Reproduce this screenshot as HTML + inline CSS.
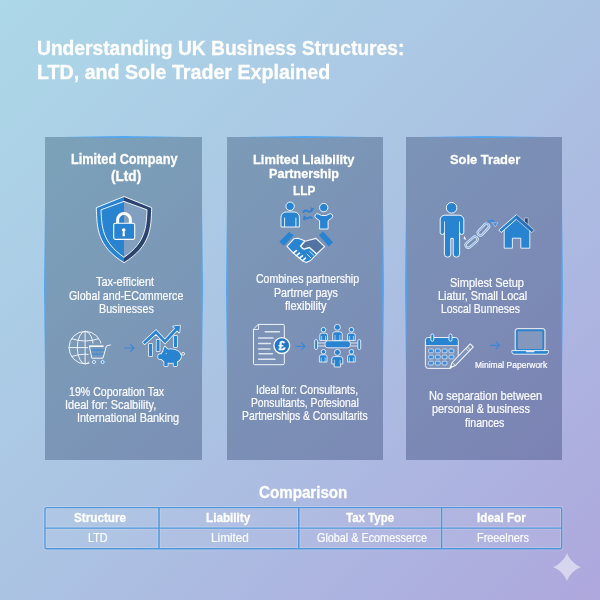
<!DOCTYPE html>
<html lang="en">
<head>
<meta charset="utf-8">
<title>Understanding UK Business Structures</title>
<style>
html,body{margin:0;padding:0;}
body{width:600px;height:600px;overflow:hidden;font-family:"Liberation Sans",Arial,sans-serif;}
#page{position:relative;width:600px;height:600px;overflow:hidden;
  background:linear-gradient(135deg,#acd8e8 0%,#abc3e3 50%,#aea7dd 100%);}
.card{position:absolute;top:137px;height:323px;width:157px;background-image:linear-gradient(135deg,#7ba9ba 0%,#7b92b6 50%,#7c7cb3 100%);background-size:600px 600px;background-repeat:no-repeat;}
.card i{position:absolute;display:block;}
.card .et{left:0;right:0;top:-1px;height:1.6px;background:linear-gradient(90deg,rgba(80,166,242,0) 10%,rgba(80,166,242,1) 50%,rgba(80,166,242,0) 90%);}
.card .el{left:-1px;top:0;bottom:0;width:1.6px;background:linear-gradient(180deg,rgba(80,166,242,0) 21%,rgba(80,166,242,1) 47%,rgba(80,166,242,0) 73%);}
.card .er{right:-1px;top:0;bottom:0;width:1.6px;background:linear-gradient(180deg,rgba(80,166,242,0) 21%,rgba(80,166,242,1) 47%,rgba(80,166,242,0) 73%);}
.t{-webkit-text-stroke:0.3px currentColor;position:absolute;white-space:nowrap;line-height:normal;transform-origin:0 0;}
svg{position:absolute;left:0;top:0;}
#txt{position:absolute;left:0;top:0;width:600px;height:600px;will-change:transform;}
</style>
</head>
<body>
<div id="page">
<div class="card" style="left:45px;background-position:-45px -137px"><i class="et"></i><i class="el"></i><i class="er"></i></div>
<div class="card" style="left:227px;width:156px;background-position:-227px -137px"><i class="et"></i><i class="el"></i><i class="er"></i></div>
<div class="card" style="left:406px;width:156px;background-position:-406px -137px"><i class="et"></i><i class="el"></i><i class="er"></i></div>
<svg width="600" height="600" viewBox="0 0 600 600">
<defs>
<linearGradient id="shO" x1="0" x2="1" y1="0" y2="0"><stop offset="0.5" stop-color="#2884d1"/><stop offset="0.5" stop-color="#2b4470"/></linearGradient>
<linearGradient id="shI" x1="0" x2="1" y1="0" y2="0"><stop offset="0.5" stop-color="#2884d1"/><stop offset="0.5" stop-color="#819fc0"/></linearGradient>
</defs>
<!-- table -->
<g id="tblg" fill="none">
<rect x="45" y="507.6" width="516.7" height="41.1" fill="#ffffff" fill-opacity="0.05" stroke="none"/>
<g stroke="#ffffff" stroke-opacity="0.22">
<rect x="45" y="507.6" width="516.7" height="41.1" rx="1.5" stroke-width="3"/>
<path d="M45,528 H561.7" stroke-width="2.9"/>
<path d="M159,507.6 V548.7 M298.8,507.6 V548.7 M441.6,507.6 V548.7" stroke-width="3.1"/>
</g>
<g stroke="#4e97da">
<rect x="45" y="507.6" width="516.7" height="41.1" rx="1.5" stroke-width="1.35"/>
<path d="M45,528 H561.7" stroke-width="1.25"/>
<path d="M159,507.6 V548.7 M298.8,507.6 V548.7 M441.6,507.6 V548.7" stroke-width="1.5"/>
</g>
</g>
<!-- shield -->
<g id="shield">
<path d="M124,196.5 L96.3,207.7 C97,228 97,246 124,262.7 C151,246 151,228 151.7,207.7 Z" fill="url(#shO)" stroke="#fff" stroke-width="0.9" stroke-linejoin="round"/>
<path d="M124,201.4 L101,209.8 C101.8,227 102,242 124,257.3 C146,242 146.2,227 147,209.8 Z" fill="url(#shI)" stroke="#fff" stroke-width="0.9" stroke-linejoin="round"/>
<path d="M117.65,224 V219.85 A6.35,6.35 0 0 1 130.35,219.85 V224" fill="none" stroke="#fff" stroke-width="3"/>
<rect x="113.7" y="223.3" width="21" height="16.1" rx="1.6" fill="#2884d1" stroke="#fff" stroke-width="1.1"/>
<circle cx="123.7" cy="230" r="1.8" fill="#fff"/>
<path d="M123,230 h1.4 l0.6,6.2 h-2.6 z" fill="#fff"/>
</g>
<!-- globe + cart -->
<g id="globe" fill="none" stroke="#f2f6fb" stroke-width="0.95">
<circle cx="85.3" cy="347.6" r="16.3"/>
<ellipse cx="85.3" cy="347.6" rx="8" ry="16.3"/>
<path d="M85.1,331.1 V364.1 M68.6,347.6 H101.6"/>
<path d="M71.3,338.6 Q85.1,343.4 98.9,338.6 M71.3,356.6 Q85.1,351.8 98.9,356.6"/>
</g>
<g id="cart">
<path d="M87.6,343.6 H111.5 L105.5,365 H89.5 Z" fill="#7b98b7"/>
<path d="M90.6,350.2 H104.8 M91.4,354 H103.8" stroke="#3a8ad8" stroke-width="1.2" fill="none"/>
<path d="M94,347 V357.5 M97,347 V357.5 M100,347 V357.5" stroke="#3a8ad8" stroke-width="0.6" fill="none" opacity="0.7"/>
<path d="M89.2,346.2 H103.6" stroke="#f4f7fb" stroke-width="1.7" fill="none"/>
<path d="M110.4,344.9 L106.4,346 L103,358.2 H91.8 L89.4,346.4" stroke="#f4f7fb" stroke-width="1" fill="none" stroke-linejoin="round" stroke-linecap="round"/>
<circle cx="94" cy="362" r="1.5" fill="#3a8ad8" stroke="#f4f7fb" stroke-width="0.9"/>
<circle cx="102.6" cy="362" r="1.5" fill="#3a8ad8" stroke="#f4f7fb" stroke-width="0.9"/>
</g>
<!-- arrows -->
<g fill="none" stroke="#3b87d7" stroke-width="1.15" stroke-linecap="round" stroke-linejoin="round">
<path d="M124.8,348 H134 M130.6,344.6 L134,348 L130.6,351.4"/>
<path d="M295.8,346.3 H305 M301.6,342.9 L305,346.3 L301.6,349.7"/>
<path d="M490.4,345.3 H499.6 M496.2,341.9 L499.6,345.3 L496.2,348.7"/>
</g>
<!-- chart + piggy -->
<defs>
<g id="chartpig">
<rect x="149" y="344" width="3.2" height="12"/>
<rect x="156.6" y="340" width="3" height="11"/>
<rect x="174" y="336" width="3" height="11"/>
<path d="M142.9,342.2 L156,330 L164.9,339.4 L175.2,328.3 L173,326.4 L180,325.4 L179.4,332.6 L177,330.4 L165,343.4 L156,334 L144.6,344.2 Z"/>
<ellipse cx="170.9" cy="356.2" rx="10.2" ry="6.9"/>
<rect x="164.3" y="359.5" width="3.4" height="6.6" rx="0.6"/>
<rect x="173.6" y="359.5" width="3.4" height="6.6" rx="0.6"/>
<path d="M163,351.5 L164.6,346.4 L168.6,350 Z"/>
<rect x="158.2" y="354.2" width="4.5" height="4.8" rx="1.6"/>
</g>
</defs>
<use href="#chartpig" fill="#f4f7fb" stroke="#f4f7fb" stroke-width="1.5" stroke-linejoin="round"/>
<use href="#chartpig" fill="#2884d1"/>
<circle cx="183.2" cy="353.8" r="1.4" fill="none" stroke="#f4f7fb" stroke-width="0.9"/>
<circle cx="166.2" cy="353.6" r="0.6" fill="#d9e6f5"/>

<!-- people pair -->
<g id="pair" stroke="#f4f7fb" stroke-width="0.95" fill="#2884d1" stroke-linejoin="round">
<circle cx="290.1" cy="206.3" r="4.2"/>
<path d="M281,227 V217.2 a5.2,5.2 0 0 1 5.2,-5.2 h8 a5.2,5.2 0 0 1 5.2,5.2 V227 Z"/>
<path d="M284.6,227 V217.6 M295.9,227 V217.6" fill="none" stroke-width="0.9"/>
<circle cx="323.7" cy="207.6" r="4.2"/>
<path d="M315.2,214.9 q1.3,-1.9 3.3,-0.9 l3,1.5 h4.6 l3,-1.5 q2,-1 3.3,0.9 q1,2 -0.8,3.3 l-3.5,2.5 V229 H319.6 V220.7 l-3.5,-2.5 q-1.9,-1.3 -0.9,-3.3 Z"/>
</g>
<g fill="none" stroke="#2f82d2" stroke-width="1.9" stroke-linecap="round">
<path d="M303.4,212 q2,-2.6 4.3,-0.8 q2.2,1.6 4.6,-1.6"/>
<path d="M304.4,216.6 q1.8,3 4.2,1.2 q1.8,-1.4 3.2,0.4"/>
</g>
<path d="M310.5,207.6 l3.6,0.6 l-2.4,2.8 z M306,220.6 l-3.4,-0.8 l1.4,-3 z" fill="#2f82d2"/>
<!-- handshake -->
<g id="shake" stroke-linejoin="round">
<path d="M279.4,241.7 L289,232 L293.8,235.2 L283.8,245.8 Z" fill="#2884d1"/>
<path d="M319,235.2 L323,231.6 L333,242.3 L328.8,246.4 Z" fill="#2884d1"/>
<path d="M305,241.2 L316,238.4 L324.6,246.6 L316.6,254 L309.4,247.4 L304,249.4 L300.6,246.4 Z" fill="#5374a1" stroke="#f4f7fb" stroke-width="1.15"/>
<path d="M293.8,238.8 L298,238.2 L304.6,240.8 L300.4,246 Q301.6,248.6 304.4,249.2 L309.2,247.6 L316.8,254.2 L313.6,257.4 L310.4,260.6 L306.4,262.6 L302.6,260.8 L292.6,252.4 L287,246.4 Z" fill="#2884d1" stroke="#f4f7fb" stroke-width="1.15"/>
<path d="M293.4,253 L296.4,250.6 M296.4,255.6 L299.4,253.2 M299.4,258.2 L302.4,255.8 M302.6,260.6 L305.4,258.2" stroke="#f4f7fb" stroke-width="1.7" stroke-linecap="round" fill="none"/>
<path d="M306.8,254 L311,258 M309.6,251.4 L313.8,255.4" stroke="#f4f7fb" stroke-width="0.8" fill="none"/>
</g>
<!-- document + pound -->
<g id="doc" fill="none" stroke="#f1f5fa" stroke-linejoin="round" stroke-linecap="round">
<path d="M258.6,324.4 H283 a1.3,1.3 0 0 1 1.3,1.3 V363.4 a1.3,1.3 0 0 1 -1.3,1.3 H254.8 a1.3,1.3 0 0 1 -1.3,-1.3 V329.4 Z" stroke-width="1"/>
<path d="M253.6,329.4 H258.6 V324.5" stroke-width="0.9"/>
<path d="M265.2,331.8 H279.4 M258.6,338 H273 M258.6,343.5 H270.4 M258.6,349 H270 M259,353.8 H272.4 M258.6,359.2 H275" stroke-width="1.5" stroke="#dde5f0"/>
</g>
<circle cx="281.8" cy="345.6" r="7.9" fill="#2377c6" stroke="#f4f7fb" stroke-width="1.3"/>
<text x="281.8" y="349.9" font-family="Liberation Sans, Arial, sans-serif" font-size="12.2" font-weight="700" fill="#ffffff" stroke="#ffffff" stroke-width="0.3" text-anchor="middle">£</text>
<!-- meeting -->
<g id="meet" fill="#2884d1" stroke="#f4f7fb" stroke-width="0.85" stroke-linejoin="round">
<path d="M317.6,343 H325 M317.6,346 H325 M350.6,343 H357.8 M350.6,346 H357.8" fill="none" stroke-width="0.8"/>
<rect x="314.6" y="339.6" width="2.9" height="9.9" rx="1.3"/>
<rect x="357.8" y="339.6" width="2.9" height="9.9" rx="1.3"/>
<circle cx="323.5" cy="329.7" r="2.3"/>
<path d="M319.8,340.4 V335.09999999999997 a1.9,1.9 0 0 1 1.9,-1.9 H325.5 a1.9,1.9 0 0 1 1.9,1.9 V340.4 Z"/>
<path d="M321.62,340.4 V335.90 M325.58,340.4 V335.90" fill="none" stroke-width="0.6"/>
<circle cx="351.4" cy="329.7" r="2.3"/>
<path d="M347.6,340.4 V335.09999999999997 a1.9,1.9 0 0 1 1.9,-1.9 H353.3 a1.9,1.9 0 0 1 1.9,1.9 V340.4 Z"/>
<path d="M349.42,340.4 V335.90 M353.38,340.4 V335.90" fill="none" stroke-width="0.6"/>
<circle cx="337.4" cy="327.3" r="3.0"/>
<path d="M332.7,340.4 V334.1 a2.3,2.3 0 0 1 2.3,-2.3 H339.9 a2.3,2.3 0 0 1 2.3,2.3 V340.4 Z"/>
<path d="M334.98,340.4 V334.90 M339.92,340.4 V334.90" fill="none" stroke-width="0.6"/>
<rect x="325.1" y="340.8" width="25.3" height="7" rx="2.6"/>
<circle cx="323.5" cy="351.8" r="2.3"/>
<path d="M319.4,362 V356.7 a1.9,1.9 0 0 1 1.9,-1.9 H325.1 a1.9,1.9 0 0 1 1.9,1.9 V362 Z"/>
<path d="M321.22,362 V357.50 M325.18,362 V357.50" fill="none" stroke-width="0.6"/>
<circle cx="351.4" cy="351.8" r="2.3"/>
<path d="M347.6,362 V356.7 a1.9,1.9 0 0 1 1.9,-1.9 H353.3 a1.9,1.9 0 0 1 1.9,1.9 V362 Z"/>
<path d="M349.42,362 V357.50 M353.38,362 V357.50" fill="none" stroke-width="0.6"/>
<circle cx="337.4" cy="352.4" r="3.0"/>
<path d="M331.8,364 V359.0 a2.4,2.4 0 0 1 2.4,-2.4 H340.40000000000003 a2.4,2.4 0 0 1 2.4,2.4 V364 H340.4 V367 H334.2 V364 Z"/>
<path d="M334.44,364 V359.80 M340.16,364 V359.80" fill="none" stroke-width="0.6"/>
</g>

<!-- sole person -->
<g id="sole" fill="#2884d1" stroke="#f4f7fb" stroke-width="1" stroke-linejoin="round">
<circle cx="451.6" cy="207.8" r="5.3"/>
<path d="M440.2,232.4 V219.8 a4.6,4.6 0 0 1 4.6,-4.6 H459.2 a4.6,4.6 0 0 1 4.6,4.6 V232.4 a2.1,2.1 0 0 1 -4.2,0 V254 a3.2,3.2 0 0 1 -6.4,0 V238.4 h-2.4 V254 a3.2,3.2 0 0 1 -6.4,0 V232.4 a2.1,2.1 0 0 1 -4.2,0 Z"/>
<path d="M444.5,221.4 V232.6 M459.5,221.4 V232.6" fill="none" stroke-width="0.8"/>
</g>
<path d="M464.2,235.6 l2.2,4.4 l-2.8,-1 z" fill="#e8eef6"/>
<!-- chain -->
<g fill="none" stroke-linecap="round">
<g transform="rotate(-41 471.6 242.2)">
<rect x="464.6" y="239.6" width="14" height="5.2" rx="2.6" stroke="#eef3f9" stroke-width="2.3"/>
<rect x="464.6" y="239.6" width="14" height="5.2" rx="2.6" stroke="#7fb0e6" stroke-width="1"/>
</g>
<g transform="rotate(-47 483.4 229.6)">
<rect x="476.4" y="227" width="14" height="5.2" rx="2.6" stroke="#eef3f9" stroke-width="2.3"/>
<rect x="476.4" y="227" width="14" height="5.2" rx="2.6" stroke="#7fb0e6" stroke-width="1"/>
</g>
</g>
<!-- curved arrow -->
<path d="M488.6,221.8 q4.6,-3.4 6.6,2" fill="none" stroke="#3a8ad8" stroke-width="1.9" stroke-linecap="round"/>
<path d="M492.4,222.6 l5.4,0.2 l-2.4,4.2 z" fill="#3a8ad8" stroke="#dfe9f5" stroke-width="0.5"/>
<!-- house -->
<g id="house" stroke-linejoin="round">
<path d="M524.4,218 H528.2 V227.6 L524.4,224 Z" fill="#2f4a78" stroke="#d7e2f0" stroke-width="0.6"/>
<path d="M504.2,229.4 L516.4,218.6 L529.8,229.4 V248.2 H520.8 V238.2 H512.4 V248.2 H504.2 Z" fill="#2884d1" stroke="#f4f7fb" stroke-width="0.9"/>
<path d="M516.4,214.6 L534.2,230 L531.8,232.6 L516.4,219.2 L501.2,232.6 L498.8,230 Z" fill="#2884d1" stroke="#f4f7fb" stroke-width="0.9"/>
<path d="M516.4,214.6 L534.2,230 L531.8,232.6 L516.4,219.2 Z" fill="#2c5ea3" opacity="0.55"/>
</g>
<!-- calendar -->
<g id="cal">
<rect x="425.4" y="337.6" width="32.8" height="30.8" rx="2.8" fill="#8094ba" stroke="#f4f7fb" stroke-width="1"/>
<path d="M426,345 V340.4 a2.3,2.3 0 0 1 2.3,-2.3 H455.3 a2.3,2.3 0 0 1 2.3,2.3 V345 Z" fill="#2884d1"/>
<path d="M425.6,345.6 H458" stroke="#e3ebf5" stroke-width="0.8"/>
<g fill="#2884d1" stroke="#f4f7fb" stroke-width="0.9">
<rect x="430.8" y="334" width="3" height="7.2" rx="1.5"/>
<rect x="449" y="334" width="3" height="7.2" rx="1.5"/>
</g>
<g fill="#3d8ddb" stroke="#dbe6f4" stroke-width="0.8">
<rect x="428.6" y="349" width="4.8" height="3.8" rx="1"/><rect x="435.4" y="349" width="4.8" height="3.8" rx="1"/><rect x="442.2" y="349" width="4.8" height="3.8" rx="1"/><rect x="449" y="349" width="4.8" height="3.8" rx="1"/>
<rect x="428.6" y="355.1" width="4.8" height="3.8" rx="1"/><rect x="435.4" y="355.1" width="4.8" height="3.8" rx="1"/><rect x="442.2" y="355.1" width="4.8" height="3.8" rx="1"/><rect x="449" y="355.1" width="4.8" height="3.8" rx="1"/>
<rect x="428.6" y="361.2" width="4.8" height="3.8" rx="1"/><rect x="435.4" y="361.2" width="4.8" height="3.8" rx="1"/><rect x="442.2" y="361.2" width="4.8" height="3.8" rx="1"/>
</g>
</g>
<path d="M460,358.6 V370 H449.6 Z" fill="#7c8ab5"/>
<!-- pencil -->
<g id="pencil" transform="rotate(44 461 356.5)" stroke="#f4f7fb" stroke-width="1" stroke-linejoin="round">
<path d="M458.8,341 H463.2 V367 L461,372.4 L458.8,367 Z" fill="#7f92b9"/>
<path d="M458.8,345.2 H463.2 M458.8,347.4 H463.2 M458.8,367 H463.2" fill="none" stroke-width="0.8"/>
<path d="M460,369.6 L461,372.4 L462,369.6 Z" fill="#f4f7fb" stroke="none"/>
</g>
<!-- laptop -->
<g id="laptop" stroke-linejoin="round">
<rect x="515.2" y="328.6" width="29.8" height="22.4" rx="2" fill="#8497bd" stroke="#f4f7fb" stroke-width="0.9"/>
<rect x="517" y="330.4" width="26.2" height="19.4" rx="1" fill="none" stroke="#2884d1" stroke-width="1.7"/>
<path d="M511.8,350.6 H548.6 V351.8 a2.4,2.4 0 0 1 -2.4,2.4 H514.2 a2.4,2.4 0 0 1 -2.4,-2.4 Z" fill="#2884d1" stroke="#f4f7fb" stroke-width="0.9"/>
<path d="M525.6,350.8 H534.8 L534,352.2 H526.4 Z" fill="#dfe8f4"/>
</g>
<!-- sparkle -->
<path d="M567.0,552.9 C568.9,558.8 575.2,565.1 581.1,567.0 C575.2,568.9 568.9,575.2 567.0,581.1 C565.1,575.2 558.8,568.9 552.9,567.0 C558.8,565.1 565.1,558.8 567.0,552.9 Z" fill="#ffffff" fill-opacity="0.5"/>
</svg>

<div id="txt">
<span id="t1" class="t" style="left:37.07px;top:36.05px;font-size:20.5px;font-weight:700;color:#ffffff;-webkit-text-stroke-width:0.3px;transform:scaleX(0.9373)">Understanding UK Business Structures:</span>
<span id="t2" class="t" style="left:37.24px;top:59.75px;font-size:20.5px;font-weight:700;color:#ffffff;-webkit-text-stroke-width:0.3px;transform:scaleX(0.9580)">LTD, and Sole Trader Explained</span>
<span id="c1h1" class="t" style="left:70.98px;top:151.33px;font-size:14.0px;font-weight:700;color:#ffffff;-webkit-text-stroke-width:0.3px;transform:scaleX(0.9066)">Limited Company</span>
<span id="c1h2" class="t" style="left:111.13px;top:167.83px;font-size:14.0px;font-weight:700;color:#ffffff;-webkit-text-stroke-width:0.3px;transform:scaleX(0.9705)">(Ltd)</span>
<span id="c1b1" class="t" style="left:95.67px;top:275.43px;font-size:11.9px;font-weight:400;color:#fafbfd;-webkit-text-stroke-width:0.22px;transform:scaleX(0.9181)">Tax-efficient</span>
<span id="c1b2" class="t" style="left:69.09px;top:288.73px;font-size:11.9px;font-weight:400;color:#fafbfd;-webkit-text-stroke-width:0.22px;transform:scaleX(0.8965)">Global and-ECommerce</span>
<span id="c1b3" class="t" style="left:98.68px;top:301.73px;font-size:11.9px;font-weight:400;color:#fafbfd;-webkit-text-stroke-width:0.22px;transform:scaleX(0.9008)">Businesses</span>
<span id="c1f1" class="t" style="left:68.59px;top:384.73px;font-size:11.9px;font-weight:400;color:#fafbfd;-webkit-text-stroke-width:0.22px;transform:scaleX(0.8904)">19% Coporation Tax</span>
<span id="c1f2" class="t" style="left:65.39px;top:398.03px;font-size:11.9px;font-weight:400;color:#fafbfd;-webkit-text-stroke-width:0.22px;transform:scaleX(0.9227)">Ideal for: Scalbility,</span>
<span id="c1f3" class="t" style="left:77.34px;top:411.23px;font-size:11.9px;font-weight:400;color:#fafbfd;-webkit-text-stroke-width:0.22px;transform:scaleX(0.9131)">International Banking</span>
<span id="c2h1" class="t" style="left:253.00px;top:151.60px;font-size:13.7px;font-weight:700;color:#ffffff;-webkit-text-stroke-width:0.3px;transform:scaleX(0.9402)">Limited Liaibility</span>
<span id="c2h2" class="t" style="left:269.08px;top:166.30px;font-size:13.7px;font-weight:700;color:#ffffff;-webkit-text-stroke-width:0.3px;transform:scaleX(0.9193)">Partnership</span>
<span id="c2h3" class="t" style="left:292.51px;top:183.40px;font-size:13.7px;font-weight:700;color:#ffffff;-webkit-text-stroke-width:0.3px;transform:scaleX(0.8613)">LLP</span>
<span id="c2b1" class="t" style="left:255.51px;top:272.23px;font-size:11.9px;font-weight:400;color:#fafbfd;-webkit-text-stroke-width:0.22px;transform:scaleX(0.8856)">Combines partnership</span>
<span id="c2b2" class="t" style="left:274.25px;top:285.53px;font-size:11.9px;font-weight:400;color:#fafbfd;-webkit-text-stroke-width:0.22px;transform:scaleX(0.8959)">Partrner pays</span>
<span id="c2b3" class="t" style="left:284.64px;top:298.73px;font-size:11.9px;font-weight:400;color:#fafbfd;-webkit-text-stroke-width:0.22px;transform:scaleX(0.9227)">flexibility</span>
<span id="c2f1" class="t" style="left:255.99px;top:382.53px;font-size:11.9px;font-weight:400;color:#fafbfd;-webkit-text-stroke-width:0.22px;transform:scaleX(0.8830)">Ideal for: Consultants,</span>
<span id="c2f2" class="t" style="left:251.11px;top:395.53px;font-size:11.9px;font-weight:400;color:#fafbfd;-webkit-text-stroke-width:0.22px;transform:scaleX(0.8667)">Ponsultants, Pofesional</span>
<span id="c2f3" class="t" style="left:242.23px;top:408.53px;font-size:11.9px;font-weight:400;color:#fafbfd;-webkit-text-stroke-width:0.22px;transform:scaleX(0.8718)">Partnerships &amp; Consultarits</span>
<span id="c3h1" class="t" style="left:450.16px;top:151.60px;font-size:13.7px;font-weight:700;color:#ffffff;-webkit-text-stroke-width:0.3px;transform:scaleX(0.9409)">Sole Trader</span>
<span id="c3b1" class="t" style="left:449.53px;top:276.03px;font-size:11.9px;font-weight:400;color:#fafbfd;-webkit-text-stroke-width:0.22px;transform:scaleX(0.9247)">Simplest Setup</span>
<span id="c3b2" class="t" style="left:438.14px;top:289.23px;font-size:11.9px;font-weight:400;color:#fafbfd;-webkit-text-stroke-width:0.22px;transform:scaleX(0.9177)">Liatur, Small Local</span>
<span id="c3b3" class="t" style="left:440.88px;top:302.23px;font-size:11.9px;font-weight:400;color:#fafbfd;-webkit-text-stroke-width:0.22px;transform:scaleX(0.8711)">Loscal Bunneses</span>
<span id="c3m" class="t" style="left:474.92px;top:359.72px;font-size:8.6px;font-weight:400;color:#fafbfd;-webkit-text-stroke-width:0.22px;transform:scaleX(0.9877)">Minimal Paperwork</span>
<span id="c3f1" class="t" style="left:429.11px;top:388.53px;font-size:11.9px;font-weight:400;color:#fafbfd;-webkit-text-stroke-width:0.22px;transform:scaleX(0.9259)">No separation between</span>
<span id="c3f2" class="t" style="left:432.06px;top:402.23px;font-size:11.9px;font-weight:400;color:#fafbfd;-webkit-text-stroke-width:0.22px;transform:scaleX(0.9150)">personal &amp; business</span>
<span id="c3f3" class="t" style="left:464.86px;top:415.53px;font-size:11.9px;font-weight:400;color:#fafbfd;-webkit-text-stroke-width:0.22px;transform:scaleX(0.8899)">finances</span>
<span id="cmp" class="t" style="left:259.06px;top:483.47px;font-size:16.5px;font-weight:700;color:#ffffff;-webkit-text-stroke-width:0.3px;transform:scaleX(0.9176)">Comparison</span>
<span id="th1" class="t" style="left:74.04px;top:510.42px;font-size:12.8px;font-weight:700;color:#ffffff;-webkit-text-stroke-width:0.3px;transform:scaleX(0.9144)">Structure</span>
<span id="th2" class="t" style="left:206.30px;top:510.02px;font-size:12.8px;font-weight:700;color:#ffffff;-webkit-text-stroke-width:0.3px;transform:scaleX(0.9140)">Liability</span>
<span id="th3" class="t" style="left:345.52px;top:510.42px;font-size:12.8px;font-weight:700;color:#ffffff;-webkit-text-stroke-width:0.3px;transform:scaleX(0.8961)">Tax Type</span>
<span id="th4" class="t" style="left:477.34px;top:510.42px;font-size:12.8px;font-weight:700;color:#ffffff;-webkit-text-stroke-width:0.3px;transform:scaleX(0.9143)">Ideal For</span>
<span id="td1" class="t" style="left:88.20px;top:531.23px;font-size:11.9px;font-weight:400;color:#fafbfd;-webkit-text-stroke-width:0.22px;transform:scaleX(0.9138)">LTD</span>
<span id="td2" class="t" style="left:210.68px;top:530.83px;font-size:11.9px;font-weight:400;color:#fafbfd;-webkit-text-stroke-width:0.22px;transform:scaleX(0.9890)">Limited</span>
<span id="td3" class="t" style="left:317.36px;top:531.03px;font-size:11.9px;font-weight:400;color:#fafbfd;-webkit-text-stroke-width:0.22px;transform:scaleX(0.9095)">Global &amp; Ecomesserce</span>
<span id="td4" class="t" style="left:476.73px;top:530.83px;font-size:11.9px;font-weight:400;color:#fafbfd;-webkit-text-stroke-width:0.22px;transform:scaleX(0.9126)">Freeelners</span>
</div>
</div>
</body>
</html>
